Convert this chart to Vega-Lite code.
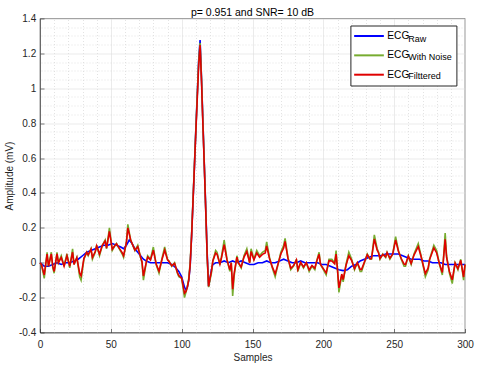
{
  "$schema": "https://vega.github.io/schema/vega-lite/v6.json",
  "width": 425,
  "height": 314,
  "autosize": {"type": "none"},
  "padding": {"left": 40, "top": 18.5, "right": 15, "bottom": 32.5},
  "title": {"text": "p= 0.951 and SNR= 10 dB", "fontSize": 10.5, "fontWeight": "normal", "font": "Liberation Sans", "color": "#000000", "offset": -4.5},
  "config": {
    "view": {"stroke": "#262626", "strokeWidth": 0.6},
    "font": "Liberation Sans",
    "axis": {"labelFont": "Liberation Sans", "titleFont": "Liberation Sans", "labelFontSize": 10, "titleFontSize": 10, "titleFontWeight": "normal", "labelColor": "#262626", "titleColor": "#262626", "domainColor": "#262626", "tickColor": "#262626", "domainWidth": 0.6, "tickWidth": 0.6, "labelFlush": false}
  },
  "datasets": {
    "ecg": [
      {"s":0,"v":0,"series":"Raw"},{"s":3,"v":-0.02,"series":"Raw"},{"s":6,"v":-0.02,"series":"Raw"},{"s":9,"v":-0.01,"series":"Raw"},{"s":12,"v":0,"series":"Raw"},{"s":15,"v":-0.01,"series":"Raw"},{"s":18,"v":0,"series":"Raw"},{"s":21,"v":0,"series":"Raw"},{"s":24,"v":0.01,"series":"Raw"},{"s":27,"v":0.02,"series":"Raw"},{"s":30,"v":0.04,"series":"Raw"},{"s":33,"v":0.06,"series":"Raw"},{"s":36,"v":0.07,"series":"Raw"},{"s":39,"v":0.08,"series":"Raw"},{"s":42,"v":0.09,"series":"Raw"},{"s":45,"v":0.1,"series":"Raw"},{"s":48,"v":0.1,"series":"Raw"},{"s":51,"v":0.11,"series":"Raw"},{"s":54,"v":0.1,"series":"Raw"},{"s":57,"v":0.09,"series":"Raw"},{"s":59,"v":0.08,"series":"Raw"},{"s":61,"v":0.1,"series":"Raw"},{"s":63,"v":0.13,"series":"Raw"},{"s":65,"v":0.11,"series":"Raw"},{"s":67,"v":0.08,"series":"Raw"},{"s":69,"v":0.06,"series":"Raw"},{"s":71,"v":0.04,"series":"Raw"},{"s":73,"v":0.02,"series":"Raw"},{"s":75,"v":0.01,"series":"Raw"},{"s":78,"v":0,"series":"Raw"},{"s":81,"v":0,"series":"Raw"},{"s":84,"v":0,"series":"Raw"},{"s":87,"v":0,"series":"Raw"},{"s":90,"v":0,"series":"Raw"},{"s":93,"v":-0.01,"series":"Raw"},{"s":96,"v":-0.03,"series":"Raw"},{"s":98,"v":-0.05,"series":"Raw"},{"s":100,"v":-0.08,"series":"Raw"},{"s":101,"v":-0.11,"series":"Raw"},{"s":102,"v":-0.14,"series":"Raw"},{"s":103,"v":-0.155,"series":"Raw"},{"s":104,"v":-0.14,"series":"Raw"},{"s":105,"v":-0.1,"series":"Raw"},{"s":106,"v":-0.02,"series":"Raw"},{"s":107,"v":0.15,"series":"Raw"},{"s":108,"v":0.35,"series":"Raw"},{"s":109,"v":0.55,"series":"Raw"},{"s":110,"v":0.76,"series":"Raw"},{"s":111,"v":0.96,"series":"Raw"},{"s":112,"v":1.16,"series":"Raw"},{"s":113,"v":1.277,"series":"Raw"},{"s":114,"v":1.06,"series":"Raw"},{"s":115,"v":0.81,"series":"Raw"},{"s":116,"v":0.56,"series":"Raw"},{"s":117,"v":0.31,"series":"Raw"},{"s":118,"v":0.06,"series":"Raw"},{"s":119,"v":-0.135,"series":"Raw"},{"s":120,"v":-0.09,"series":"Raw"},{"s":121,"v":-0.04,"series":"Raw"},{"s":122,"v":-0.01,"series":"Raw"},{"s":124,"v":0,"series":"Raw"},{"s":127,"v":0,"series":"Raw"},{"s":130,"v":0.01,"series":"Raw"},{"s":133,"v":0,"series":"Raw"},{"s":136,"v":0.01,"series":"Raw"},{"s":139,"v":0,"series":"Raw"},{"s":142,"v":0.01,"series":"Raw"},{"s":145,"v":0,"series":"Raw"},{"s":148,"v":-0.01,"series":"Raw"},{"s":151,"v":-0.01,"series":"Raw"},{"s":154,"v":0,"series":"Raw"},{"s":157,"v":0,"series":"Raw"},{"s":160,"v":0.01,"series":"Raw"},{"s":163,"v":0,"series":"Raw"},{"s":166,"v":0,"series":"Raw"},{"s":169,"v":0.01,"series":"Raw"},{"s":172,"v":0.02,"series":"Raw"},{"s":175,"v":0.01,"series":"Raw"},{"s":178,"v":0,"series":"Raw"},{"s":181,"v":0,"series":"Raw"},{"s":184,"v":0.01,"series":"Raw"},{"s":187,"v":0,"series":"Raw"},{"s":190,"v":0,"series":"Raw"},{"s":193,"v":0,"series":"Raw"},{"s":196,"v":0,"series":"Raw"},{"s":199,"v":-0.01,"series":"Raw"},{"s":202,"v":-0.01,"series":"Raw"},{"s":205,"v":-0.02,"series":"Raw"},{"s":208,"v":-0.03,"series":"Raw"},{"s":211,"v":-0.04,"series":"Raw"},{"s":214,"v":-0.045,"series":"Raw"},{"s":217,"v":-0.04,"series":"Raw"},{"s":220,"v":-0.02,"series":"Raw"},{"s":223,"v":-0.01,"series":"Raw"},{"s":226,"v":0.01,"series":"Raw"},{"s":229,"v":0.02,"series":"Raw"},{"s":232,"v":0.03,"series":"Raw"},{"s":235,"v":0.04,"series":"Raw"},{"s":238,"v":0.04,"series":"Raw"},{"s":241,"v":0.04,"series":"Raw"},{"s":244,"v":0.05,"series":"Raw"},{"s":247,"v":0.05,"series":"Raw"},{"s":250,"v":0.05,"series":"Raw"},{"s":253,"v":0.05,"series":"Raw"},{"s":256,"v":0.04,"series":"Raw"},{"s":259,"v":0.03,"series":"Raw"},{"s":262,"v":0.02,"series":"Raw"},{"s":265,"v":0.02,"series":"Raw"},{"s":268,"v":0.02,"series":"Raw"},{"s":271,"v":0.01,"series":"Raw"},{"s":274,"v":0.01,"series":"Raw"},{"s":277,"v":0,"series":"Raw"},{"s":280,"v":0,"series":"Raw"},{"s":283,"v":0,"series":"Raw"},{"s":286,"v":-0.01,"series":"Raw"},{"s":289,"v":-0.01,"series":"Raw"},{"s":292,"v":-0.01,"series":"Raw"},{"s":295,"v":-0.01,"series":"Raw"},{"s":298,"v":-0.01,"series":"Raw"},{"s":300,"v":-0.01,"series":"Raw"},

      {"s":0,"v":0,"series":"With Noise"},{"s":1,"v":-0.01,"series":"With Noise"},{"s":3,"v":-0.09,"series":"With Noise"},{"s":5,"v":0.06,"series":"With Noise"},{"s":6,"v":-0.02,"series":"With Noise"},{"s":8,"v":0.06,"series":"With Noise"},{"s":9,"v":-0.03,"series":"With Noise"},{"s":10,"v":-0.06,"series":"With Noise"},{"s":12,"v":0.06,"series":"With Noise"},{"s":13,"v":0,"series":"With Noise"},{"s":15,"v":0.04,"series":"With Noise"},{"s":17,"v":-0.02,"series":"With Noise"},{"s":19,"v":0.05,"series":"With Noise"},{"s":21,"v":-0.03,"series":"With Noise"},{"s":23,"v":0.08,"series":"With Noise"},{"s":24,"v":-0.01,"series":"With Noise"},{"s":26,"v":0.03,"series":"With Noise"},{"s":28,"v":-0.08,"series":"With Noise"},{"s":29,"v":-0.1,"series":"With Noise"},{"s":31,"v":0.02,"series":"With Noise"},{"s":33,"v":0.06,"series":"With Noise"},{"s":34,"v":0.04,"series":"With Noise"},{"s":36,"v":0.08,"series":"With Noise"},{"s":37,"v":0.02,"series":"With Noise"},{"s":39,"v":0.06,"series":"With Noise"},{"s":40,"v":0.1,"series":"With Noise"},{"s":42,"v":0.04,"series":"With Noise"},{"s":44,"v":0.1,"series":"With Noise"},{"s":46,"v":0.13,"series":"With Noise"},{"s":47,"v":0.08,"series":"With Noise"},{"s":49,"v":0.2,"series":"With Noise"},{"s":51,"v":0.07,"series":"With Noise"},{"s":53,"v":0.1,"series":"With Noise"},{"s":54,"v":0.11,"series":"With Noise"},{"s":56,"v":0.08,"series":"With Noise"},{"s":58,"v":0.05,"series":"With Noise"},{"s":59,"v":0.03,"series":"With Noise"},{"s":61,"v":0.12,"series":"With Noise"},{"s":62,"v":0.22,"series":"With Noise"},{"s":64,"v":0.13,"series":"With Noise"},{"s":65,"v":0.11,"series":"With Noise"},{"s":67,"v":0.07,"series":"With Noise"},{"s":69,"v":0.1,"series":"With Noise"},{"s":71,"v":0.03,"series":"With Noise"},{"s":72,"v":0,"series":"With Noise"},{"s":73,"v":-0.1,"series":"With Noise"},{"s":75,"v":0,"series":"With Noise"},{"s":76,"v":0.04,"series":"With Noise"},{"s":78,"v":0.02,"series":"With Noise"},{"s":80,"v":0.09,"series":"With Noise"},{"s":82,"v":-0.01,"series":"With Noise"},{"s":84,"v":-0.06,"series":"With Noise"},{"s":86,"v":0.02,"series":"With Noise"},{"s":88,"v":0.09,"series":"With Noise"},{"s":90,"v":0.02,"series":"With Noise"},{"s":91,"v":0.01,"series":"With Noise"},{"s":93,"v":-0.02,"series":"With Noise"},{"s":95,"v":0,"series":"With Noise"},{"s":97,"v":-0.06,"series":"With Noise"},{"s":98,"v":-0.08,"series":"With Noise"},{"s":100,"v":-0.09,"series":"With Noise"},{"s":102,"v":-0.2,"series":"With Noise"},{"s":103,"v":-0.17,"series":"With Noise"},{"s":104,"v":-0.14,"series":"With Noise"},{"s":105,"v":-0.09,"series":"With Noise"},{"s":106,"v":0,"series":"With Noise"},{"s":107,"v":0.16,"series":"With Noise"},{"s":108,"v":0.36,"series":"With Noise"},{"s":109,"v":0.56,"series":"With Noise"},{"s":110,"v":0.76,"series":"With Noise"},{"s":111,"v":0.96,"series":"With Noise"},{"s":112,"v":1.15,"series":"With Noise"},{"s":113,"v":1.26,"series":"With Noise"},{"s":114,"v":1.06,"series":"With Noise"},{"s":115,"v":0.8,"series":"With Noise"},{"s":116,"v":0.56,"series":"With Noise"},{"s":117,"v":0.3,"series":"With Noise"},{"s":118,"v":0.03,"series":"With Noise"},{"s":119,"v":-0.14,"series":"With Noise"},{"s":120,"v":-0.1,"series":"With Noise"},{"s":121,"v":-0.06,"series":"With Noise"},{"s":122,"v":0.01,"series":"With Noise"},{"s":124,"v":0.07,"series":"With Noise"},{"s":125,"v":0.06,"series":"With Noise"},{"s":127,"v":-0.01,"series":"With Noise"},{"s":128,"v":0.03,"series":"With Noise"},{"s":130,"v":0.13,"series":"With Noise"},{"s":132,"v":0.02,"series":"With Noise"},{"s":134,"v":-0.05,"series":"With Noise"},{"s":135,"v":0,"series":"With Noise"},{"s":136,"v":-0.19,"series":"With Noise"},{"s":137,"v":-0.08,"series":"With Noise"},{"s":139,"v":0.04,"series":"With Noise"},{"s":140,"v":0,"series":"With Noise"},{"s":142,"v":-0.03,"series":"With Noise"},{"s":144,"v":0.04,"series":"With Noise"},{"s":146,"v":0.08,"series":"With Noise"},{"s":148,"v":0,"series":"With Noise"},{"s":149,"v":0.08,"series":"With Noise"},{"s":151,"v":0.02,"series":"With Noise"},{"s":153,"v":0.07,"series":"With Noise"},{"s":155,"v":0.04,"series":"With Noise"},{"s":157,"v":0.06,"series":"With Noise"},{"s":159,"v":0.07,"series":"With Noise"},{"s":160,"v":0.12,"series":"With Noise"},{"s":162,"v":0.03,"series":"With Noise"},{"s":164,"v":-0.03,"series":"With Noise"},{"s":166,"v":-0.08,"series":"With Noise"},{"s":168,"v":-0.01,"series":"With Noise"},{"s":170,"v":0.06,"series":"With Noise"},{"s":172,"v":0.1,"series":"With Noise"},{"s":173,"v":0.14,"series":"With Noise"},{"s":175,"v":0.03,"series":"With Noise"},{"s":177,"v":-0.04,"series":"With Noise"},{"s":179,"v":-0.02,"series":"With Noise"},{"s":181,"v":0.02,"series":"With Noise"},{"s":182,"v":-0.05,"series":"With Noise"},{"s":184,"v":0,"series":"With Noise"},{"s":186,"v":-0.03,"series":"With Noise"},{"s":188,"v":0,"series":"With Noise"},{"s":190,"v":-0.05,"series":"With Noise"},{"s":192,"v":-0.02,"series":"With Noise"},{"s":194,"v":-0.04,"series":"With Noise"},{"s":195,"v":0,"series":"With Noise"},{"s":197,"v":0.06,"series":"With Noise"},{"s":198,"v":-0.01,"series":"With Noise"},{"s":200,"v":-0.04,"series":"With Noise"},{"s":202,"v":-0.07,"series":"With Noise"},{"s":204,"v":0.02,"series":"With Noise"},{"s":206,"v":0.02,"series":"With Noise"},{"s":208,"v":0,"series":"With Noise"},{"s":209,"v":0.07,"series":"With Noise"},{"s":210,"v":-0.04,"series":"With Noise"},{"s":211,"v":-0.17,"series":"With Noise"},{"s":213,"v":-0.07,"series":"With Noise"},{"s":214,"v":-0.11,"series":"With Noise"},{"s":216,"v":-0.01,"series":"With Noise"},{"s":218,"v":0.06,"series":"With Noise"},{"s":220,"v":0.02,"series":"With Noise"},{"s":222,"v":-0.04,"series":"With Noise"},{"s":224,"v":0,"series":"With Noise"},{"s":226,"v":-0.05,"series":"With Noise"},{"s":227,"v":-0.05,"series":"With Noise"},{"s":229,"v":0,"series":"With Noise"},{"s":231,"v":0.05,"series":"With Noise"},{"s":233,"v":0.02,"series":"With Noise"},{"s":234,"v":0.02,"series":"With Noise"},{"s":236,"v":0.16,"series":"With Noise"},{"s":238,"v":0.08,"series":"With Noise"},{"s":239,"v":0.06,"series":"With Noise"},{"s":240,"v":0.02,"series":"With Noise"},{"s":242,"v":0.05,"series":"With Noise"},{"s":244,"v":0.03,"series":"With Noise"},{"s":245,"v":0.06,"series":"With Noise"},{"s":247,"v":0.02,"series":"With Noise"},{"s":249,"v":0.05,"series":"With Noise"},{"s":251,"v":0.15,"series":"With Noise"},{"s":253,"v":0.07,"series":"With Noise"},{"s":255,"v":0.02,"series":"With Noise"},{"s":257,"v":-0.02,"series":"With Noise"},{"s":258,"v":-0.02,"series":"With Noise"},{"s":260,"v":0.04,"series":"With Noise"},{"s":262,"v":-0.01,"series":"With Noise"},{"s":264,"v":0.05,"series":"With Noise"},{"s":267,"v":0.11,"series":"With Noise"},{"s":269,"v":0.04,"series":"With Noise"},{"s":271,"v":-0.04,"series":"With Noise"},{"s":272,"v":-0.08,"series":"With Noise"},{"s":274,"v":-0.04,"series":"With Noise"},{"s":275,"v":0.02,"series":"With Noise"},{"s":278,"v":0.1,"series":"With Noise"},{"s":280,"v":0.07,"series":"With Noise"},{"s":282,"v":-0.01,"series":"With Noise"},{"s":284,"v":-0.07,"series":"With Noise"},{"s":286,"v":0.17,"series":"With Noise"},{"s":287,"v":0.04,"series":"With Noise"},{"s":289,"v":-0.06,"series":"With Noise"},{"s":291,"v":-0.12,"series":"With Noise"},{"s":293,"v":0,"series":"With Noise"},{"s":295,"v":-0.04,"series":"With Noise"},{"s":297,"v":0.02,"series":"With Noise"},{"s":299,"v":-0.1,"series":"With Noise"},{"s":300,"v":-0.01,"series":"With Noise"},

      {"s":0,"v":0,"series":"Filttered"},{"s":1,"v":-0.01,"series":"Filttered"},{"s":3,"v":-0.07,"series":"Filttered"},{"s":5,"v":0.05,"series":"Filttered"},{"s":6,"v":-0.02,"series":"Filttered"},{"s":8,"v":0.05,"series":"Filttered"},{"s":9,"v":-0.02,"series":"Filttered"},{"s":10,"v":-0.05,"series":"Filttered"},{"s":12,"v":0.05,"series":"Filttered"},{"s":13,"v":0,"series":"Filttered"},{"s":15,"v":0.03,"series":"Filttered"},{"s":17,"v":-0.02,"series":"Filttered"},{"s":19,"v":0.04,"series":"Filttered"},{"s":21,"v":-0.02,"series":"Filttered"},{"s":23,"v":0.06,"series":"Filttered"},{"s":24,"v":-0.01,"series":"Filttered"},{"s":26,"v":0.03,"series":"Filttered"},{"s":28,"v":-0.06,"series":"Filttered"},{"s":29,"v":-0.075,"series":"Filttered"},{"s":31,"v":0.025,"series":"Filttered"},{"s":33,"v":0.06,"series":"Filttered"},{"s":34,"v":0.045,"series":"Filttered"},{"s":36,"v":0.078,"series":"Filttered"},{"s":37,"v":0.03,"series":"Filttered"},{"s":39,"v":0.064,"series":"Filttered"},{"s":40,"v":0.097,"series":"Filttered"},{"s":42,"v":0.05,"series":"Filttered"},{"s":44,"v":0.1,"series":"Filttered"},{"s":46,"v":0.124,"series":"Filttered"},{"s":47,"v":0.084,"series":"Filttered"},{"s":49,"v":0.18,"series":"Filttered"},{"s":51,"v":0.078,"series":"Filttered"},{"s":53,"v":0.1,"series":"Filttered"},{"s":54,"v":0.108,"series":"Filttered"},{"s":56,"v":0.082,"series":"Filttered"},{"s":58,"v":0.058,"series":"Filttered"},{"s":59,"v":0.04,"series":"Filttered"},{"s":61,"v":0.116,"series":"Filttered"},{"s":62,"v":0.2,"series":"Filttered"},{"s":64,"v":0.13,"series":"Filttered"},{"s":65,"v":0.11,"series":"Filttered"},{"s":67,"v":0.072,"series":"Filttered"},{"s":69,"v":0.092,"series":"Filttered"},{"s":71,"v":0.032,"series":"Filttered"},{"s":72,"v":0.006,"series":"Filttered"},{"s":73,"v":-0.076,"series":"Filttered"},{"s":75,"v":0.002,"series":"Filttered"},{"s":76,"v":0.032,"series":"Filttered"},{"s":78,"v":0.016,"series":"Filttered"},{"s":80,"v":0.072,"series":"Filttered"},{"s":82,"v":-0.008,"series":"Filttered"},{"s":84,"v":-0.048,"series":"Filttered"},{"s":86,"v":0.016,"series":"Filttered"},{"s":88,"v":0.072,"series":"Filttered"},{"s":90,"v":0.016,"series":"Filttered"},{"s":91,"v":0.008,"series":"Filttered"},{"s":93,"v":-0.018,"series":"Filttered"},{"s":95,"v":-0.004,"series":"Filttered"},{"s":97,"v":-0.056,"series":"Filttered"},{"s":98,"v":-0.074,"series":"Filttered"},{"s":100,"v":-0.088,"series":"Filttered"},{"s":102,"v":-0.175,"series":"Filttered"},{"s":103,"v":-0.165,"series":"Filttered"},{"s":104,"v":-0.14,"series":"Filttered"},{"s":105,"v":-0.1,"series":"Filttered"},{"s":106,"v":-0.01,"series":"Filttered"},{"s":107,"v":0.15,"series":"Filttered"},{"s":108,"v":0.35,"series":"Filttered"},{"s":109,"v":0.55,"series":"Filttered"},{"s":110,"v":0.75,"series":"Filttered"},{"s":111,"v":0.94,"series":"Filttered"},{"s":112,"v":1.13,"series":"Filttered"},{"s":113,"v":1.248,"series":"Filttered"},{"s":114,"v":1.04,"series":"Filttered"},{"s":115,"v":0.79,"series":"Filttered"},{"s":116,"v":0.55,"series":"Filttered"},{"s":117,"v":0.3,"series":"Filttered"},{"s":118,"v":0.04,"series":"Filttered"},{"s":119,"v":-0.135,"series":"Filttered"},{"s":120,"v":-0.09,"series":"Filttered"},{"s":121,"v":-0.05,"series":"Filttered"},{"s":122,"v":0.01,"series":"Filttered"},{"s":124,"v":0.056,"series":"Filttered"},{"s":125,"v":0.048,"series":"Filttered"},{"s":127,"v":-0.008,"series":"Filttered"},{"s":128,"v":0.024,"series":"Filttered"},{"s":130,"v":0.104,"series":"Filttered"},{"s":132,"v":0.016,"series":"Filttered"},{"s":134,"v":-0.04,"series":"Filttered"},{"s":135,"v":0,"series":"Filttered"},{"s":136,"v":-0.152,"series":"Filttered"},{"s":137,"v":-0.064,"series":"Filttered"},{"s":139,"v":0.032,"series":"Filttered"},{"s":140,"v":0,"series":"Filttered"},{"s":142,"v":-0.024,"series":"Filttered"},{"s":144,"v":0.032,"series":"Filttered"},{"s":146,"v":0.064,"series":"Filttered"},{"s":148,"v":0,"series":"Filttered"},{"s":149,"v":0.064,"series":"Filttered"},{"s":151,"v":0.016,"series":"Filttered"},{"s":153,"v":0.056,"series":"Filttered"},{"s":155,"v":0.032,"series":"Filttered"},{"s":157,"v":0.048,"series":"Filttered"},{"s":159,"v":0.056,"series":"Filttered"},{"s":160,"v":0.096,"series":"Filttered"},{"s":162,"v":0.024,"series":"Filttered"},{"s":164,"v":-0.024,"series":"Filttered"},{"s":166,"v":-0.064,"series":"Filttered"},{"s":168,"v":-0.008,"series":"Filttered"},{"s":170,"v":0.05,"series":"Filttered"},{"s":172,"v":0.084,"series":"Filttered"},{"s":173,"v":0.122,"series":"Filttered"},{"s":175,"v":0.026,"series":"Filttered"},{"s":177,"v":-0.032,"series":"Filttered"},{"s":179,"v":-0.016,"series":"Filttered"},{"s":181,"v":0.016,"series":"Filttered"},{"s":182,"v":-0.04,"series":"Filttered"},{"s":184,"v":0.002,"series":"Filttered"},{"s":186,"v":-0.024,"series":"Filttered"},{"s":188,"v":0,"series":"Filttered"},{"s":190,"v":-0.04,"series":"Filttered"},{"s":192,"v":-0.016,"series":"Filttered"},{"s":194,"v":-0.032,"series":"Filttered"},{"s":195,"v":0,"series":"Filttered"},{"s":197,"v":0.048,"series":"Filttered"},{"s":198,"v":-0.01,"series":"Filttered"},{"s":200,"v":-0.034,"series":"Filttered"},{"s":202,"v":-0.058,"series":"Filttered"},{"s":204,"v":0.012,"series":"Filttered"},{"s":206,"v":0.01,"series":"Filttered"},{"s":208,"v":-0.006,"series":"Filttered"},{"s":209,"v":0.05,"series":"Filttered"},{"s":210,"v":-0.04,"series":"Filttered"},{"s":211,"v":-0.144,"series":"Filttered"},{"s":213,"v":-0.065,"series":"Filttered"},{"s":214,"v":-0.097,"series":"Filttered"},{"s":216,"v":-0.016,"series":"Filttered"},{"s":218,"v":0.04,"series":"Filttered"},{"s":220,"v":0.012,"series":"Filttered"},{"s":222,"v":-0.034,"series":"Filttered"},{"s":224,"v":0,"series":"Filttered"},{"s":226,"v":-0.038,"series":"Filttered"},{"s":227,"v":-0.038,"series":"Filttered"},{"s":229,"v":0.004,"series":"Filttered"},{"s":231,"v":0.046,"series":"Filttered"},{"s":233,"v":0.022,"series":"Filttered"},{"s":234,"v":0.024,"series":"Filttered"},{"s":236,"v":0.136,"series":"Filttered"},{"s":238,"v":0.072,"series":"Filttered"},{"s":239,"v":0.056,"series":"Filttered"},{"s":240,"v":0.024,"series":"Filttered"},{"s":242,"v":0.048,"series":"Filttered"},{"s":244,"v":0.034,"series":"Filttered"},{"s":245,"v":0.058,"series":"Filttered"},{"s":247,"v":0.026,"series":"Filttered"},{"s":249,"v":0.05,"series":"Filttered"},{"s":251,"v":0.13,"series":"Filttered"},{"s":253,"v":0.066,"series":"Filttered"},{"s":255,"v":0.024,"series":"Filttered"},{"s":257,"v":-0.008,"series":"Filttered"},{"s":258,"v":-0.01,"series":"Filttered"},{"s":260,"v":0.038,"series":"Filttered"},{"s":262,"v":-0.004,"series":"Filttered"},{"s":264,"v":0.044,"series":"Filttered"},{"s":267,"v":0.092,"series":"Filttered"},{"s":269,"v":0.036,"series":"Filttered"},{"s":271,"v":-0.03,"series":"Filttered"},{"s":272,"v":-0.062,"series":"Filttered"},{"s":274,"v":-0.03,"series":"Filttered"},{"s":275,"v":0.018,"series":"Filttered"},{"s":278,"v":0.085,"series":"Filttered"},{"s":280,"v":0.056,"series":"Filttered"},{"s":282,"v":-0.008,"series":"Filttered"},{"s":284,"v":-0.056,"series":"Filttered"},{"s":286,"v":0.134,"series":"Filttered"},{"s":287,"v":0.03,"series":"Filttered"},{"s":289,"v":-0.05,"series":"Filttered"},{"s":291,"v":-0.098,"series":"Filttered"},{"s":293,"v":-0.002,"series":"Filttered"},{"s":295,"v":-0.034,"series":"Filttered"},{"s":297,"v":0.014,"series":"Filttered"},{"s":299,"v":-0.082,"series":"Filttered"},{"s":300,"v":-0.01,"series":"Filttered"}
    ]
  },
  "data": {"name": "ecg"},
  "resolve": {"axis": {"x": "independent", "y": "independent"}},
  "layer": [
    {
      "mark": {"type": "point", "opacity": 0},
      "encoding": {
        "x": {"field": "s", "type": "quantitative", "scale": {"domain": [0, 300], "nice": false, "zero": false},
          "axis": {"orient": "top", "values": [10,20,30,40,60,70,80,90,110,120,130,140,160,170,180,190,210,220,230,240,260,270,280,290], "grid": true, "gridDash": [1, 2], "gridColor": "#d0d0d0", "gridWidth": 0.6, "labels": false, "ticks": false, "domain": false, "title": null}},
        "y": {"field": "v", "type": "quantitative", "scale": {"domain": [-0.4, 1.4], "nice": false, "zero": false},
          "axis": {"orient": "right", "values": [-0.35,-0.3,-0.25,-0.15,-0.1,-0.05,0.05,0.1,0.15,0.25,0.3,0.35,0.45,0.5,0.55,0.65,0.7,0.75,0.85,0.9,0.95,1.05,1.1,1.15,1.25,1.3,1.35], "grid": true, "gridDash": [1, 2], "gridColor": "#d0d0d0", "gridWidth": 0.6, "labels": false, "ticks": false, "domain": false, "title": null}},
        "shape": {"field": "series", "type": "nominal", "sort": ["Raw", "With Noise", "Filttered"],
          "legend": {"orient": "none", "legendX": 310.4, "legendY": 7.0, "title": null, "zindex": 0, "labelFont": "Liberation Sans", "labelFontSize": 9, "labelColor": "#000000", "labelBaseline": "top", "symbolOpacity": 0, "symbolSize": 121, "symbolStrokeWidth": 0, "rowPadding": 3.35, "padding": 4, "labelOffset": 42.8, "strokeColor": "#262626", "fillColor": "#ffffff"}}
      }
    },
    {
      "mark": {"type": "line", "strokeWidth": 1.6},
      "encoding": {
        "x": {"field": "s", "type": "quantitative", "scale": {"domain": [0, 300], "nice": false, "zero": false},
          "axis": {"orient": "bottom", "values": [0,50,100,150,200,250,300], "grid": true, "gridColor": "#dedede", "gridWidth": 0.6, "tickSize": -4, "labelPadding": 11, "title": "Samples", "titlePadding": 3}},
        "y": {"field": "v", "type": "quantitative", "scale": {"domain": [-0.4, 1.4], "nice": false, "zero": false},
          "axis": {"orient": "left", "values": [-0.4,-0.2,0,0.2,0.4,0.6,0.8,1,1.2,1.4], "labelExpr": "'' + round(datum.value*10)/10", "grid": true, "gridColor": "#dedede", "gridWidth": 0.6, "tickSize": -4, "labelPadding": 8.3, "title": "Amplitude (mV)", "titlePadding": 4}},
        "color": {"field": "series", "type": "nominal",
          "scale": {"domain": ["Raw", "With Noise", "Filttered"], "range": ["#0000ff", "#77ac30", "#e00000"]},
          "legend": {"orient": "none", "legendX": 317.3, "legendY": 5.8, "title": null, "zindex": 1, "labelExpr": "'ECG'", "labelFont": "Liberation Sans", "labelFontSize": 10.2, "labelColor": "#000000", "symbolType": "M-2.7,0H2.7", "symbolSize": 121, "symbolStrokeWidth": 2, "rowPadding": 7.35, "padding": 5.2, "labelOffset": 11.8}}
      }
    }
  ]
}
